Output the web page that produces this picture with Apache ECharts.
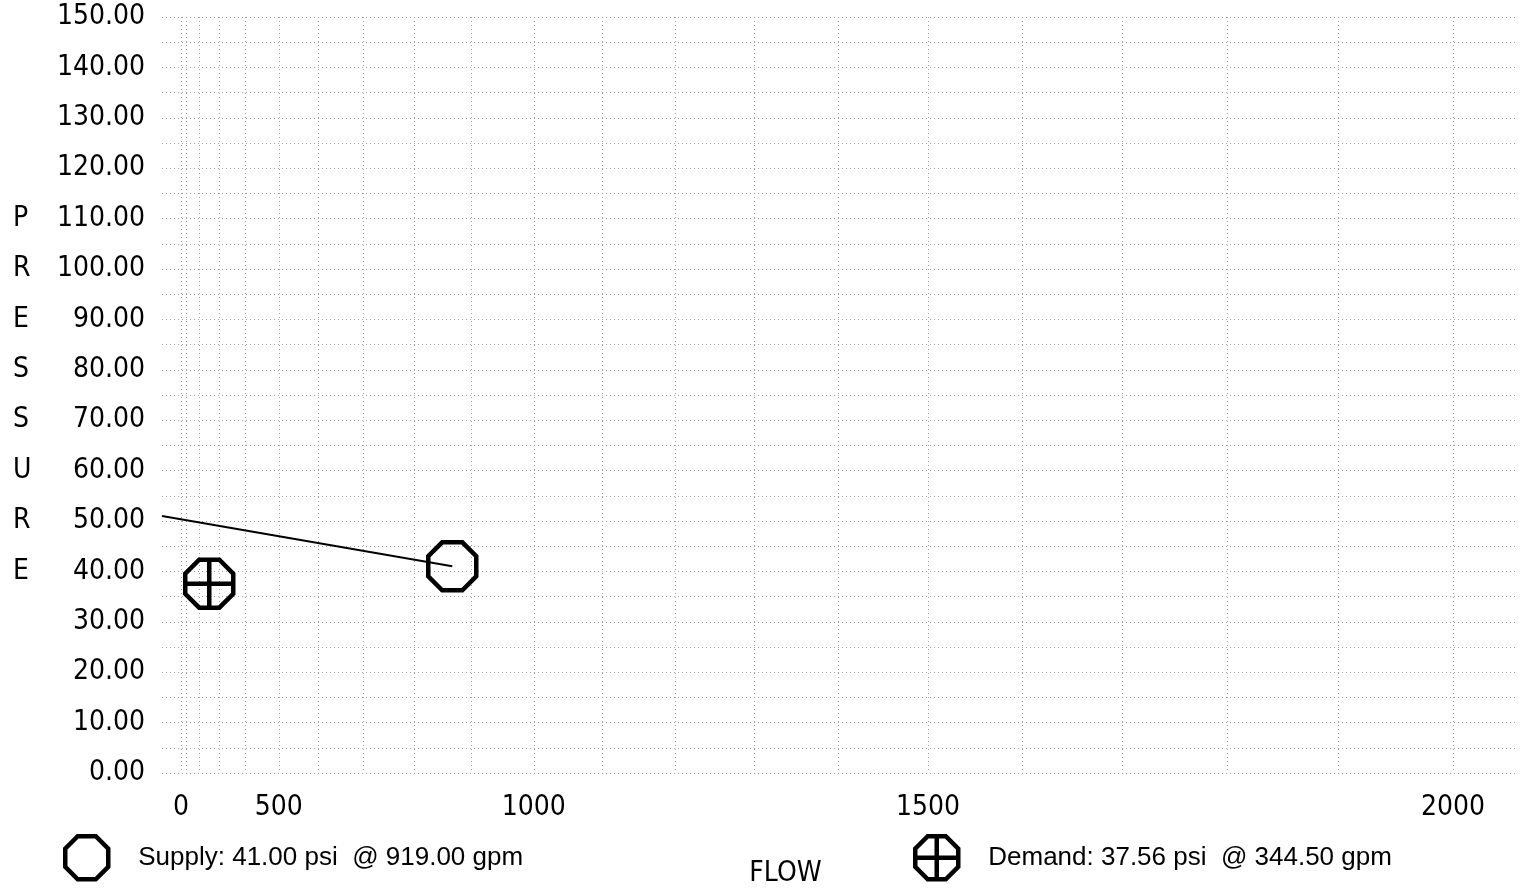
<!DOCTYPE html>
<html>
<head>
<meta charset="utf-8">
<script src="https://cdn.jsdelivr.net/npm/echarts@6/dist/echarts.min.js"></script>
<style>
html, body { margin: 0; padding: 0; background: #ffffff; }
#chart { width: 1530px; height: 888px; }
</style>
</head>
<body>
<div id="chart"></div>
<script>
// ---------------- data ----------------
const FLOW_EXPONENT = 1.85;                 // hydraulic N^1.85 graph paper
const gridFlows = [0, 100, 200, 300, 400, 500, 600, 700, 800, 900, 1000,
                   1100, 1200, 1300, 1400, 1500, 1600, 1700, 1800, 1900, 2000];
const flowTickLabels = [0, 500, 1000, 1500, 2000];
const pressureMin = 0, pressureMax = 150, pressureStep = 5, pressureLabelStep = 10;

const supplyCurveFlow = [0, 919];
const supplyCurvePressure = [51, 41];
const supplyFlow = [919.00];
const supplyPressure = [41.00];
const demandFlow = [344.50];
const demandPressure = [37.56];

// ---------------- helpers ----------------
const toN = q => Math.pow(q / 1000, FLOW_EXPONENT);
const fromN = u => Math.round(1000 * Math.pow(Math.max(u, 0), 1 / FLOW_EXPONENT));

const supplyName = 'Supply: ' + supplyPressure[0].toFixed(2) + ' psi  @ ' + supplyFlow[0].toFixed(2) + ' gpm';
const demandName = 'Demand: ' + demandPressure[0].toFixed(2) + ' psi  @ ' + demandFlow[0].toFixed(2) + ' gpm';

const OCTAGON = 'path://M29,0L71,0L100,29L100,71L71,100L29,100L0,71L0,29Z';
const OCTAGON_CROSS = 'path://M29,0L71,0L100,29L100,71L71,100L29,100L0,71L0,29Z M50,0L50,100 M0,50L100,50';

const AXIS_FONT = "'Liberation Sans Narrow', 'DejaVu Sans Condensed', sans-serif";
const TEXT_FONT = "'Liberation Sans', Arial, sans-serif";
const AXIS_SIZE = 28;
const gridLine = { color: '#a0a0a0', width: 1, type: [1, 3] };
const markerStyle = { color: 'rgba(0,0,0,0)', borderColor: '#000000', borderWidth: 4.5, opacity: 1 };

const chart = echarts.init(document.getElementById('chart'), null, { renderer: 'canvas' });

const legendCommon = {
  orient: 'horizontal',
  top: 834,
  padding: 0,
  itemWidth: 43,
  itemHeight: 43,
  selectedMode: false,
  itemStyle: markerStyle,
  textStyle: { fontFamily: TEXT_FONT, fontSize: 26, color: '#000000', padding: [0, 0, 0, 25] }
};

chart.setOption({
  backgroundColor: '#ffffff',
  animation: false,
  grid: { left: 162, right: 15, top: 17, bottom: 115, outerBoundsMode: 'none', containLabel: false },
  legend: [
    Object.assign({}, legendCommon, { left: 63, data: [{ name: supplyName, icon: OCTAGON }] }),
    Object.assign({}, legendCommon, { left: 913, data: [{ name: demandName, icon: OCTAGON_CROSS }] })
  ],
  xAxis: [
    {
      type: 'value',
      position: 'bottom',
      min: -0.0536,
      max: 3.7808,
      name: 'FLOW',
      nameLocation: 'middle',
      nameGap: 87,
      nameTextStyle: { fontFamily: AXIS_FONT, fontSize: AXIS_SIZE, color: '#000000', padding: [0, 106, 0, 0] },
      axisLine: { show: false },
      axisTick: { show: false, customValues: gridFlows.map(toN) },
      axisLabel: {
        customValues: flowTickLabels.map(toN),
        formatter: v => String(fromN(v)),
        margin: 21,
        fontFamily: AXIS_FONT,
        fontSize: AXIS_SIZE,
        color: '#000000'
      },
      splitLine: { show: true, lineStyle: gridLine }
    },
    {
      type: 'value',
      position: 'bottom',
      show: false,
      min: 0,
      max: 3.987,
      splitLine: { show: false }
    }
  ],
  yAxis: {
    type: 'value',
    min: pressureMin,
    max: pressureMax,
    interval: pressureStep,
    name: 'P\nR\nE\nS\nS\nU\nR\nE',
    nameLocation: 'middle',
    nameRotate: 0,
    nameGap: 149,
    nameTextStyle: { fontFamily: AXIS_FONT, fontSize: AXIS_SIZE, color: '#000000', lineHeight: 50.4, align: 'left' },
    axisLine: { show: false },
    axisTick: { show: false },
    axisLabel: {
      formatter: v => (Math.round(v) % pressureLabelStep === 0 ? v.toFixed(2) : ''),
      margin: 17,
      fontFamily: AXIS_FONT,
      fontSize: AXIS_SIZE,
      color: '#000000'
    },
    splitLine: { show: true, lineStyle: gridLine }
  },
  series: [
    {
      name: 'Supply curve',
      type: 'line',
      xAxisIndex: 1,
      showSymbol: false,
      silent: true,
      lineStyle: { color: '#000000', width: 2 },
      data: supplyCurveFlow.map((q, i) => [toN(q), supplyCurvePressure[i]]),
      z: 3
    },
    {
      name: supplyName,
      type: 'scatter',
      xAxisIndex: 1,
      symbol: OCTAGON,
      symbolSize: 48,
      itemStyle: markerStyle,
      data: supplyFlow.map((q, i) => [toN(q), supplyPressure[i]]),
      z: 4
    },
    {
      name: demandName,
      type: 'scatter',
      xAxisIndex: 1,
      symbol: OCTAGON_CROSS,
      symbolSize: 48,
      itemStyle: markerStyle,
      data: demandFlow.map((q, i) => [toN(q), demandPressure[i]]),
      z: 4
    }
  ]
});
</script>
</body>
</html>
